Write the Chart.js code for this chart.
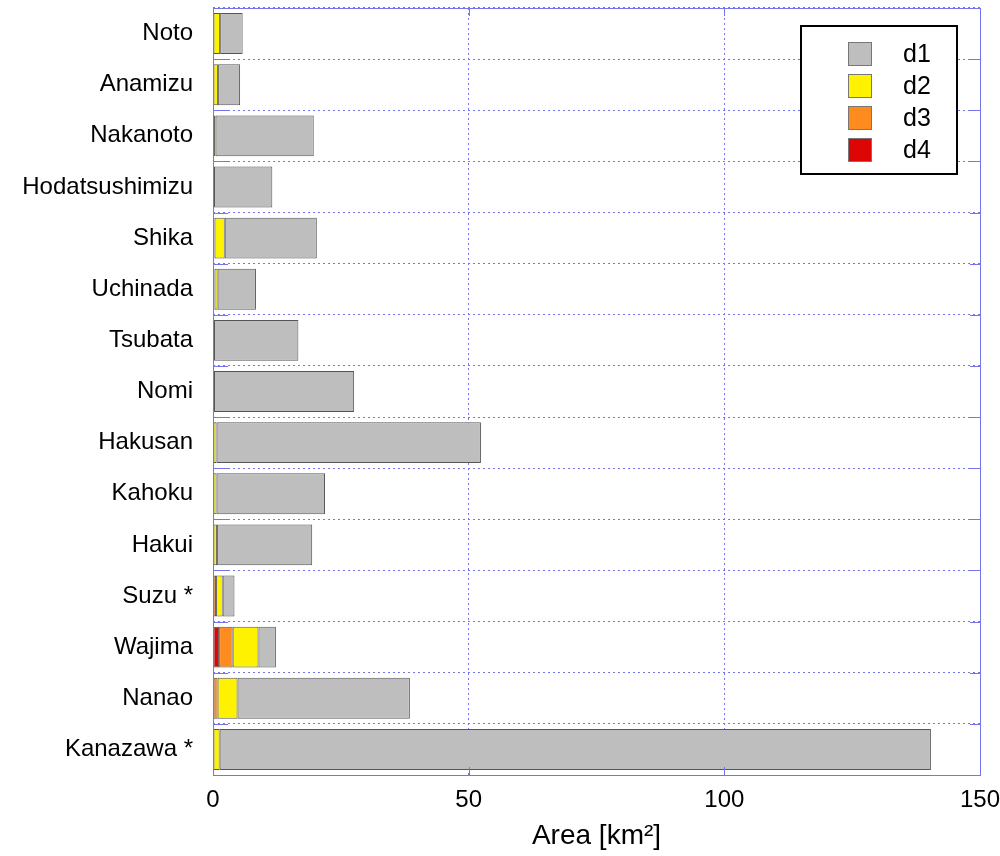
<!DOCTYPE html>
<html>
<head>
<meta charset="utf-8">
<script src="https://cdn.jsdelivr.net/npm/chart.js@4"></script>
<style>
  body { margin: 0; background: #fff; }
  #wrap { width: 1000px; height: 856px; position: relative; }
</style>
</head>
<body>
<div id="wrap"><canvas id="areaChart"></canvas></div>
<script>
var labels = ['Noto', 'Anamizu', 'Nakanoto', 'Hodatsushimizu', 'Shika', 'Uchinada', 'Tsubata', 'Nomi',
    'Hakusan', 'Kahoku', 'Hakui', 'Suzu *', 'Wajima', 'Nanao', 'Kanazawa *'];
var d1 = [4.4, 4.3, 19.2, 11.4, 18.0, 7.5, 16.5, 27.4, 51.7, 21.2, 18.6, 2.3, 3.4, 33.7, 139.1];
var d2 = [1.4, 1.0, 0.5, 0.2, 2.0, 0.6, 0.2, 0.2, 0.7, 0.7, 0.8, 1.3, 5.05, 3.9, 1.3];
var d3 = [0, 0, 0, 0, 0.3, 0.3, 0, 0, 0, 0, 0, 0.5, 2.65, 0.8, 0];
var d4 = [0, 0, 0, 0, 0, 0, 0, 0, 0, 0, 0, 0.1, 1.2, 0.1, 0];
var xTicks = [0, 50, 100, 150];

var font = "'Liberation Sans', Arial, Helvetica, sans-serif";
var blue = '#7474ec';

// bars stack from the axis: d4 first, d1 last
var data = {
    labels: labels,
    datasets: [
        { label: 'd4', data: d4, backgroundColor: '#dd0606' },
        { label: 'd3', data: d3, backgroundColor: '#fd8b1e' },
        { label: 'd2', data: d2, backgroundColor: '#fff200' },
        { label: 'd1', data: d1, backgroundColor: '#bebebe' }
    ]
};
data.datasets.forEach(function (ds) {
    ds.borderColor = '#555555';
    ds.borderWidth = 1;
    ds.borderSkipped = false;
    ds.barPercentage = 0.8;
    ds.categoryPercentage = 1.0;
});

// frame, inside tick marks and boxed legend
var framePlugin = {
    id: 'frame',
    afterDraw: function (chart) {
        var ctx = chart.ctx;
        var a = chart.chartArea;
        var x = chart.scales.x;
        var y = chart.scales.y;
        ctx.save();
        ctx.strokeStyle = blue;
        ctx.lineWidth = 1;
        ctx.beginPath();
        for (var i = 1; i < labels.length; i++) {
            var yy = Math.round((y.getPixelForValue(i - 1) + y.getPixelForValue(i)) / 2) + 0.5;
            ctx.moveTo(a.left, yy); ctx.lineTo(a.left + 15, yy);
            ctx.moveTo(a.right - 10, yy); ctx.lineTo(a.right, yy);
        }
        xTicks.forEach(function (t) {
            var xx = Math.round(x.getPixelForValue(t)) + 0.5;
            ctx.moveTo(xx, a.bottom); ctx.lineTo(xx, a.bottom - 8);
            ctx.moveTo(xx, a.top); ctx.lineTo(xx, a.top + 8);
        });
        ctx.stroke();
        ctx.strokeRect(Math.round(a.left) + 0.5, Math.round(a.top) + 0.5,
            Math.round(a.right - a.left), Math.round(a.bottom - a.top));

        // legend box
        var bx = a.right - 179, by = a.top + 18, bw = 156, bh = 148;
        ctx.fillStyle = '#ffffff';
        ctx.fillRect(bx, by, bw, bh);
        ctx.strokeStyle = '#000000';
        ctx.lineWidth = 2;
        ctx.strokeRect(bx, by, bw, bh);
        ctx.lineWidth = 1;
        ctx.font = '25px ' + font;
        ctx.textBaseline = 'middle';
        var items = chart.data.datasets.slice().reverse();
        items.forEach(function (ds, k) {
            var sy = by + 16 + k * 32;
            ctx.fillStyle = ds.backgroundColor;
            ctx.fillRect(bx + 47, sy, 24, 24);
            ctx.strokeStyle = '#777777';
            ctx.strokeRect(bx + 47.5, sy + 0.5, 23, 23);
            ctx.fillStyle = '#000000';
            ctx.fillText(ds.label, bx + 102, sy + 13);
        });
        ctx.restore();
    }
};

var ctx = document.getElementById('areaChart').getContext('2d');

var areaChart = new Chart(ctx, {
    type: 'bar',
    data: data,
    options: {
        indexAxis: 'y',
        animation: false,
        responsive: true,
        maintainAspectRatio: false,
        layout: {
            padding: { top: 8, right: 20, left: 0, bottom: 0 }
        },
        scales: {
            x: {
                stacked: true,
                min: 0,
                max: 150,
                afterFit: function (scale) {
                    scale.height = 81;
                    scale.paddingLeft = 0;
                    scale.paddingRight = 0;
                },
                afterBuildTicks: function (scale) {
                    scale.ticks = xTicks.map(function (v) { return { value: v }; });
                },
                grid: {
                    color: blue,
                    drawTicks: false,
                    tickLength: 0
                },
                border: { display: false, dash: [2, 3] },
                ticks: {
                    color: '#000',
                    padding: 11,
                    maxRotation: 0,
                    font: { family: font, size: 24 }
                },
                title: {
                    display: true,
                    text: 'Area [km²]',
                    color: '#000',
                    padding: { top: 0, bottom: 3 },
                    font: { family: font, size: 28 }
                }
            },
            y: {
                stacked: true,
                afterFit: function (scale) {
                    scale.width = 213;
                    scale.paddingTop = 0;
                    scale.paddingBottom = 0;
                },
                grid: {
                    offset: true,
                    color: blue,
                    drawTicks: false,
                    tickLength: 0
                },
                border: { display: false, dash: [2, 3] },
                ticks: {
                    color: '#000',
                    padding: 20,
                    font: { family: font, size: 24 }
                }
            }
        },
        plugins: {
            legend: { display: false },
            tooltip: { enabled: false }
        }
    },
    plugins: [framePlugin]
});
</script>
</body>
</html>
